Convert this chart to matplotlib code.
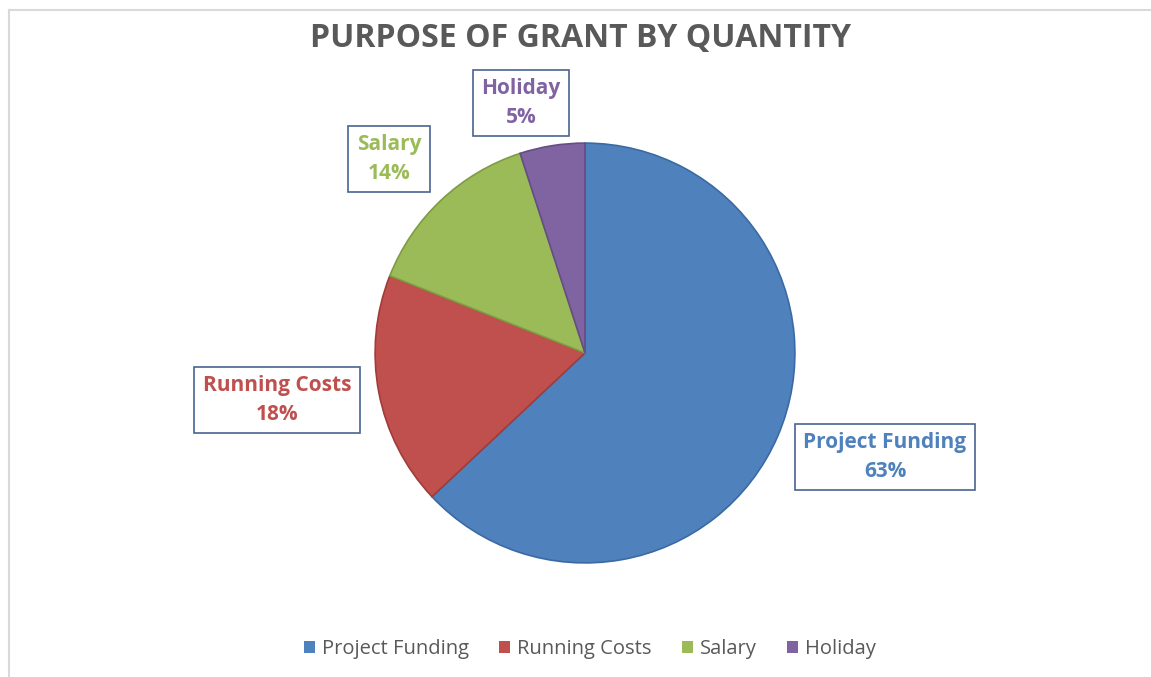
import matplotlib
matplotlib.use("Agg")
import matplotlib.pyplot as plt
from matplotlib.patches import Rectangle
from matplotlib.lines import Line2D

categories = ["Project Funding", "Running Costs", "Salary", "Holiday"]
values = [63, 18, 14, 5]
colors = ["#4F81BD", "#C0504D", "#9BBB59", "#8064A2"]
text_colors = ["#4F81BD", "#C0504D", "#9BBB59", "#8064A2"]
title = "PURPOSE OF GRANT BY QUANTITY"

W, H = 1151, 677
fig = plt.figure(figsize=(W / 100, H / 100), dpi=100)
fig.patch.set_facecolor("white")

# faint frame
fig.add_artist(Line2D([9 / W, 1], [1 - 10 / H, 1 - 10 / H], color="#d9d9d9", lw=1.5))
fig.add_artist(Line2D([9 / W, 9 / W], [0, 1 - 10 / H], color="#d9d9d9", lw=1.5))

cx, cy, r = 585, 353, 212
ax = fig.add_axes([(cx - r) / W, (H - cy - r) / H, 2 * r / W, 2 * r / H])
wedges, _ = ax.pie(values, colors=colors, startangle=90, counterclock=False,
                   radius=1.0)
ax.set_xlim(-1.01, 1.01)
ax.set_ylim(-1.01, 1.01)
ax.set_aspect("equal")
ax.axis("off")

edge_cols = ["#3a6aa3", "#a03c3a", "#7f9c45", "#654d86"]
for w, ec in zip(wedges, edge_cols):
    w.set_edgecolor(ec)
    w.set_linewidth(1.2)

# data labels with boxes
label_pos = [(885, 457), (277, 400), (389, 159), (521, 103)]
for cat, v, tc, (lx, ly) in zip(categories, values, text_colors, label_pos):
    fig.text(lx / W, 1 - ly / H, f"{cat}\n{v}%", ha="center", va="center",
             fontsize=15, fontweight="bold", color=tc, family="Open Sans",
             linespacing=1.45,
             bbox=dict(boxstyle="square,pad=0.4", facecolor="white",
                       edgecolor="#4a6391", linewidth=1.2))

fig.text(581 / W, 1 - 38 / H, title, ha="center", va="center",
         fontsize=23, fontweight="bold", color="#595959", family="Open Sans")

handles = [Rectangle((0, 0), 1, 1, facecolor=c, edgecolor="none") for c in colors]
leg = fig.legend(handles, categories, loc="center", bbox_to_anchor=(590 / W, 1 - 649 / H),
                 ncol=4, frameon=False, handlelength=0.55, handleheight=0.55,
                 handletextpad=0.35, columnspacing=1.5,
                 prop=dict(family="Open Sans", size=14.5))
for t in leg.get_texts():
    t.set_color("#595959")

fig.savefig("out.png", dpi=100, facecolor="white")
